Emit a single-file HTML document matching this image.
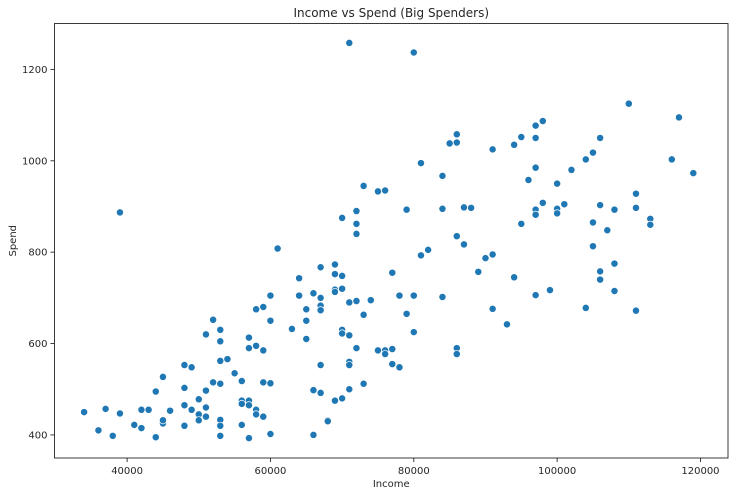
<!DOCTYPE html>
<html><head><meta charset="utf-8"><style>
body{margin:0;background:#fff;font-family:"Liberation Sans","DejaVu Sans",sans-serif;}
svg text{font-family:"DejaVu Sans","Liberation Sans",sans-serif;fill:#262626;}
</style></head><body>
<svg id="chart" width="730" height="496" xmlns="http://www.w3.org/2000/svg"></svg>
<script>
const incomes=[34000,36000,37000,38000,39000,39000,41000,42000,42000,43000,44000,44000,45000,45000,45000,46000,48000,48000,48000,48000,49000,49000,50000,50000,50000,51000,51000,51000,51000,52000,52000,53000,53000,53000,53000,53000,53000,53000,54000,55000,56000,56000,56000,56000,57000,57000,57000,57000,57000,58000,58000,58000,58000,59000,59000,59000,59000,60000,60000,60000,60000,61000,63000,64000,64000,65000,65000,65000,66000,66000,66000,67000,67000,67000,67000,67000,67000,68000,68000,69000,69000,69000,69000,69000,70000,70000,70000,70000,70000,70000,71000,71000,71000,71000,71000,71000,72000,72000,72000,72000,72000,73000,73000,73000,74000,75000,75000,76000,76000,76000,77000,77000,77000,78000,78000,79000,79000,80000,80000,80000,81000,81000,82000,84000,84000,84000,85000,86000,86000,86000,86000,86000,87000,87000,88000,89000,90000,91000,91000,91000,93000,94000,94000,95000,95000,96000,97000,97000,97000,97000,97000,97000,98000,98000,99000,100000,100000,100000,101000,102000,104000,104000,105000,105000,105000,106000,106000,106000,106000,107000,108000,108000,108000,110000,111000,111000,111000,113000,113000,116000,117000,119000];
const spends=[450,410,457,398,447,887,422,415,455,455,395,495,527,425,432,453,553,503,465,420,548,455,478,445,432,497,620,460,440,652,515,630,605,562,512,433,420,398,566,535,518,475,468,422,613,590,475,465,393,675,595,455,445,680,585,515,440,705,650,513,402,808,632,743,705,675,650,610,710,498,400,767,700,683,673,553,492,432,430,773,752,718,713,475,875,748,720,630,622,480,1258,690,618,560,553,500,890,862,840,693,590,945,663,512,695,933,585,935,585,577,755,588,555,705,548,893,665,1237,705,625,995,793,805,967,895,702,1038,1058,1040,835,590,577,898,817,897,757,787,1025,795,676,642,1035,745,1052,862,958,1077,1050,985,893,882,706,1087,908,717,950,895,885,905,980,1003,678,1018,865,813,1050,903,758,740,848,893,775,715,1125,928,897,672,873,860,1003,1095,973];
const xTicks=[40000,60000,80000,100000,120000];
const yTicks=[400,600,800,1000,1200];
const L=54.5,R=728,T=23.5,B=458;
const xMin=29870,xMax=123840,yMin=349.5,yMax=1300.5;
function sx(v){return L+(v-xMin)/(xMax-xMin)*(R-L);}
function sy(v){return B-(v-yMin)/(yMax-yMin)*(B-T);}
const svg=document.getElementById('chart');
const NS='http://www.w3.org/2000/svg';
function mk(tag,attrs){const e=document.createElementNS(NS,tag);for(const k in attrs)e.setAttribute(k,attrs[k]);svg.appendChild(e);return e;}
for(let i=0;i<incomes.length;i++){
 const c=mk('circle',{cx:sx(incomes[i]),cy:sy(spends[i]),r:3.6,fill:'#1f77b4',stroke:'#fff','stroke-width':0.7});
 
 
}
const fr=mk('rect',{x:L,y:T,width:R-L,height:B-T,fill:'none',stroke:'#262626','stroke-width':0.9});


xTicks.forEach(t=>{
 const x=sx(t);
 mk('line',{x1:x,x2:x,y1:B,y2:B+4,stroke:'#262626','stroke-width':0.9});
 const tx=mk('text',{x:x,y:B+16,'font-size':10,'text-anchor':'middle'});
 tx.textContent=t;
 
 
});
yTicks.forEach(t=>{
 const y=sy(t);
 mk('line',{x1:L-4,x2:L,y1:y,y2:y,stroke:'#262626','stroke-width':0.9});
 const tx=mk('text',{x:L-7,y:y+3.5,'font-size':10,'text-anchor':'end'});
 tx.textContent=t;
 
 
});
const xl=mk('text',{x:(L+R)/2,y:487,'font-size':10,'text-anchor':'middle'});
xl.textContent='Income';


const yl=mk('text',{x:16,y:(T+B)/2,'font-size':10,'text-anchor':'middle',transform:'rotate(-90 16 '+((T+B)/2)+')'});
yl.textContent='Spend';


const ti=mk('text',{x:(L+R)/2,y:17,'font-size':12,'text-anchor':'middle'});
ti.textContent='Income vs Spend (Big Spenders)';


</script>
</body></html>
